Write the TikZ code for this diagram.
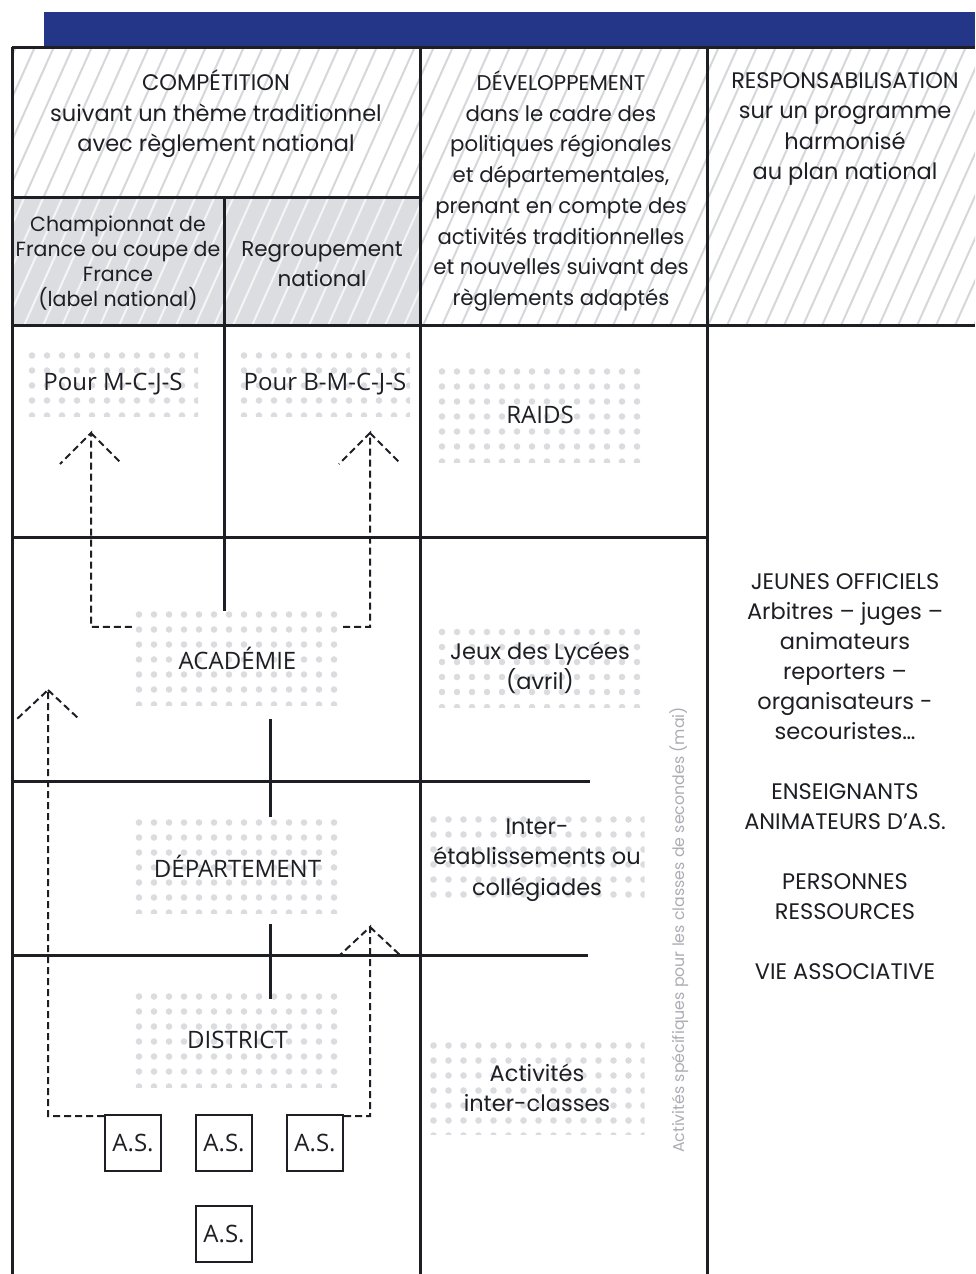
\documentclass[tikz,border=0pt]{standalone}
\usepackage{fontspec}
\setmainfont{Poppins}
\newfontfamily\boxfont{Open Sans}

\definecolor{barblue}{RGB}{35,54,135}
\definecolor{ink}{RGB}{30,31,36}
\definecolor{dotgray}{RGB}{219,220,224}
\definecolor{hatchgray}{RGB}{214,215,218}
\definecolor{cellgray}{RGB}{220,221,224}
\definecolor{notegray}{RGB}{172,173,178}

\tikzset{
	rule/.style={draw=ink, line width=3pt},
	hatchline/.style={line width=2pt},
	dotbox/.style={inner sep=0pt, text=ink, align=center,
		font=\boxfont\fontsize{24}{28}\selectfont,
		path picture={
			\foreach \i in {0,...,15}
				\foreach \j in {0,...,7}
					\fill[dotgray] ([xshift=\i*15pt+4pt, yshift=-\j*15pt-3.5pt]path picture bounding box.north west) circle (3.3pt);
		}},
	labbox/.style={dotbox, font=\fontsize{22.5}{30.5}\selectfont},
	asbox/.style={draw=ink, line width=2pt, minimum size=56pt, inner sep=0pt,
		text=ink, font=\boxfont\fontsize{24}{28}\selectfont},
	dashline/.style={draw=ink, line width=2pt, dash pattern=on 7pt off 4pt},
	headtext/.style={align=center, text=ink, font=\fontsize{22.5}{30.5}\selectfont},
}

\begin{document}
\begin{tikzpicture}[x=1pt, y=-1pt]
	\useasboundingbox (0,0) rectangle (975,1274);
	% bandeau
	\fill[barblue] (44,12) rectangle (975,46);
	% en-tete hachure
	\fill[cellgray] (12,197) rectangle (420,325);
	\begin{scope}
		\clip (12,46) rectangle (975,197) (420,197) rectangle (975,325);
		\foreach \k in {0,...,60}
			\draw[hatchline, hatchgray] (\k*19-130, 330) -- ++(130,-290);
	\end{scope}
	\begin{scope}
		\clip (12,197) rectangle (420,325);
		\foreach \k in {0,...,60}
			\draw[hatchline, white!70!cellgray] (\k*19-130, 330) -- ++(130,-290);
	\end{scope}

	% cases pointillees
	\node[dotbox, minimum width=170pt, minimum height=64pt] (mcjs) at (113,384) {Pour M-C-J-S};
	\node[dotbox, minimum width=170pt, minimum height=64pt] (bmcjs) at (325,384) {Pour B-M-C-J-S};
	\node[dotbox, minimum width=204pt, minimum height=94pt] (raids) at (540,415) {RAIDS};
	\node[dotbox, minimum width=205pt, minimum height=94pt] (academie) at (237.5,658) {ACADÉMIE};
	\node[dotbox, minimum width=205pt, minimum height=94pt] (departement) at (237.5,866) {DÉPARTEMENT};
	\node[dotbox, minimum width=205pt, minimum height=94pt] (district) at (237.5,1040) {DISTRICT};
	\node[labbox, minimum width=204pt, minimum height=79pt] (jeux) at (540,668) {Jeux des Lycées\\(avril)};
	\node[labbox, minimum width=215pt, minimum height=88pt] (inter) at (537,860) {Inter-\\établissements ou\\collégiades};
	\node[labbox, minimum width=215pt, minimum height=92pt] (classes) at (537,1088) {Activités\\inter-classes};

	% A.S.
	\node[asbox] (as1) at (133,1143) {A.S.};
	\node[asbox] (as2) at (224,1143) {A.S.};
	\node[asbox] (as3) at (315,1143) {A.S.};
	\node[asbox] (as4) at (224,1234) {A.S.};

	% traits du tableau
	\draw[rule] (12,47) -- (975,47);
	\draw[rule] (12,47) -- (12,1274);
	\draw[rule] (420,47) -- (420,1274);
	\draw[rule] (707,47) -- (707,1274);
	\draw[rule] (12,197) -- (420,197);
	\draw[rule] (12,325) -- (975,325);
	\draw[rule] (12,537) -- (707,537);
	\draw[rule] (12,781) -- (590,781);
	\draw[rule] (12,955) -- (588,955);
	\draw[rule] (224,197) -- ([xshift=-13.5pt]academie.north);
	\draw[rule] ([xshift=32.5pt, yshift=-14pt]academie.south) -- ([xshift=32.5pt, yshift=2pt]departement.north);
	\draw[rule] ([xshift=32.5pt, yshift=-11pt]departement.south) -- ([xshift=32.5pt, yshift=-6pt]district.north);

	% fleches pointillees
	\coordinate (tipas) at (48,690);
	\coordinate (tipdist) at (370,927);
	\coordinate (tipmcjs) at (91,433);
	\coordinate (tipbmcjs) at (370,433);
	\draw[dashline] ([yshift=-2pt]as1.north west) -| (tipas) -- ++(-31,29) (tipas) -- ++(31,29);
	\draw[dashline] ([yshift=-2pt]as3.north east) -| (tipdist) -- ++(-31,29) (tipdist) -- ++(31,29);
	\draw[dashline] ([xshift=-3pt, yshift=-16pt]academie.north west) -| (tipmcjs) -- ++(-31,31) (tipmcjs) -- ++(31,31);
	\draw[dashline] ([xshift=3pt, yshift=-16pt]academie.north east) -| (tipbmcjs) -- ++(-31,31) (tipbmcjs) -- ++(31,31);

	% textes d'en-tete
	\node[headtext] (competition) at (216,114) {COMPÉTITION\\suivant un thème traditionnel\\avec règlement national};
	\node[headtext, font=\fontsize{20.5}{25}\selectfont] (championnat) at (118,263) {Championnat de\\France ou coupe de\\France\\(label national)};
	\node[headtext, font=\fontsize{21.5}{30}\selectfont] (regroupement) at (322,264) {Regroupement\\national};
	\node[headtext, font=\fontsize{21.3}{30.7}\selectfont] (developpement) at (561,191) {DÉVELOPPEMENT\\dans le cadre des\\politiques régionales\\et départementales,\\prenant en compte des\\activités traditionnelles\\et nouvelles suivant des\\règlements adaptés};
	\node[headtext] (responsabilisation) at (845,129) {RESPONSABILISATION\\sur un programme\\harmonisé\\au plan national};

	% colonne de droite
	\node[headtext, font=\fontsize{22.5}{30}\selectfont] (officiels) at (845,777) {JEUNES OFFICIELS\\Arbitres – juges –\\animateurs\\reporters –\\organisateurs -\\secouristes…\\[30pt]ENSEIGNANTS\\ANIMATEURS D’A.S.\\[30pt]PERSONNES\\RESSOURCES\\[30pt]VIE ASSOCIATIVE};
	\node[rotate=90, text=notegray, font=\fontsize{15.8}{18}\selectfont] (secondes) at (679,930) {Activités spécifiques pour les classes de secondes (mai)};
\end{tikzpicture}
\end{document}
